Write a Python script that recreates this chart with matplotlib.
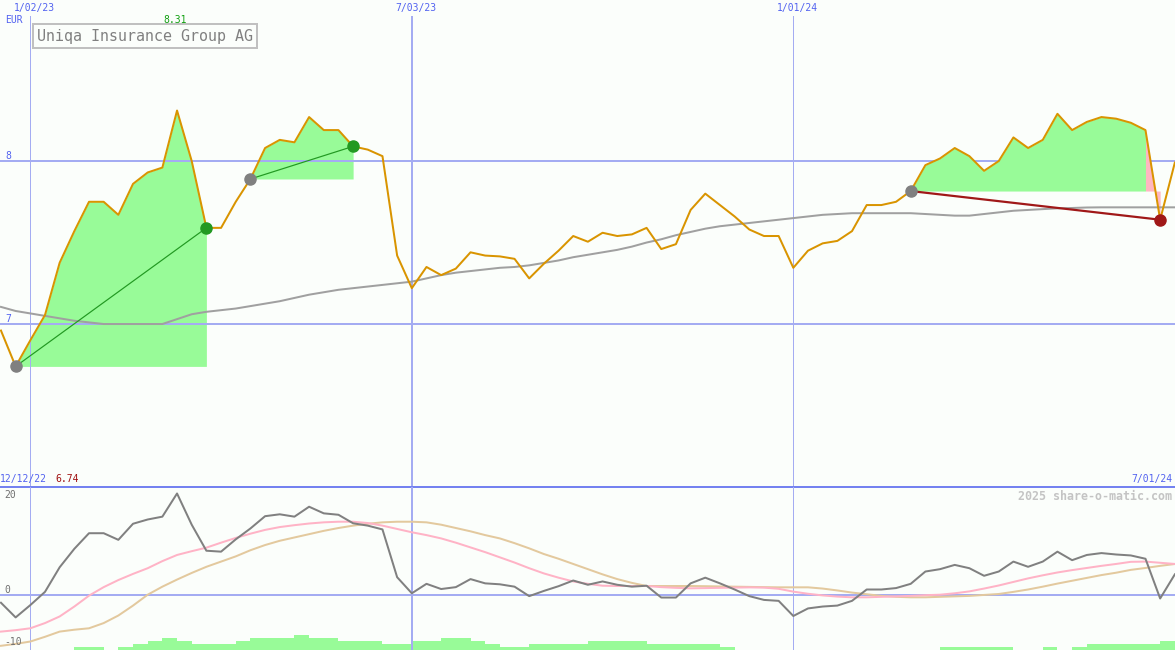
#!/usr/bin/env python3
"""Weekly price chart for Uniqa Insurance Group AG with a momentum panel below."""

import matplotlib
matplotlib.use("Agg")
import matplotlib.pyplot as plt
import matplotlib.transforms as mtransforms
import pandas as pd

# ── data (one value per week, 19 Dec 2022 … 1 Jul 2024) ───────────────────────
START_WEEK = "2022-12-19"

price = [
    6.96, 6.74, 6.90, 7.055, 7.376, 7.57, 7.75, 7.75, 7.67, 7.86,
    7.93, 7.96, 8.31, 8.00, 7.59, 7.59, 7.75, 7.89, 8.08, 8.13,
    8.115, 8.27, 8.19, 8.19, 8.09, 8.07, 8.03, 7.42, 7.22, 7.35,
    7.30, 7.34, 7.44, 7.42, 7.415, 7.40, 7.28, 7.37, 7.45, 7.54,
    7.505, 7.56, 7.54, 7.55, 7.59, 7.46, 7.49, 7.70, 7.80, 7.73,
    7.66, 7.58, 7.54, 7.54, 7.345, 7.45, 7.495, 7.51, 7.57, 7.73,
    7.73, 7.75, 7.816, 7.975, 8.016, 8.08, 8.03, 7.94, 8.00, 8.145,
    8.08, 8.13, 8.29, 8.19, 8.24, 8.27, 8.26, 8.235, 8.19, 7.64,
    7.99,
]

price_ma = [
    7.105, 7.08, 7.065, 7.05, 7.035, 7.02, 7.01, 7.00, 7.00, 7.00,
    7.00, 7.00, 7.03, 7.06, 7.075, 7.085, 7.095, 7.11, 7.125, 7.14,
    7.16, 7.18, 7.195, 7.21, 7.22, 7.23, 7.24, 7.25, 7.26, 7.28,
    7.30, 7.315, 7.325, 7.335, 7.345, 7.35, 7.36, 7.375, 7.39, 7.41,
    7.425, 7.44, 7.455, 7.475, 7.50, 7.52, 7.545, 7.565, 7.585, 7.60,
    7.61, 7.62, 7.63, 7.64, 7.65, 7.66, 7.67, 7.675, 7.68, 7.68,
    7.68, 7.68, 7.68, 7.675, 7.67, 7.665, 7.665, 7.675, 7.685, 7.695,
    7.70, 7.705, 7.71, 7.712, 7.715, 7.716, 7.716, 7.716, 7.716, 7.716,
    7.716,
]

momentum = [
    -1.7, -4.8, -2.2, 0.6, 5.8, 9.7, 13.0, 13.0, 11.6, 15.0,
    15.9, 16.5, 21.4, 14.8, 9.3, 9.1, 11.7, 14.0, 16.6, 17.0,
    16.5, 18.6, 17.2, 16.9, 15.1, 14.6, 13.8, 3.7, 0.3, 2.3,
    1.2, 1.6, 3.3, 2.4, 2.2, 1.7, -0.3, 0.8, 1.8, 3.0,
    2.1, 2.8, 2.1, 1.7, 1.9, -0.6, -0.6, 2.4, 3.6, 2.4,
    1.1, -0.3, -1.1, -1.3, -4.5, -2.9, -2.5, -2.3, -1.3, 1.1,
    1.1, 1.4, 2.3, 4.9, 5.4, 6.3, 5.6, 4.0, 4.9, 7.0,
    5.9, 7.0, 9.1, 7.3, 8.4, 8.8, 8.5, 8.3, 7.6, -0.8,
    4.3,
]

momentum_fast = [
    -7.8, -7.5, -7.1, -6.0, -4.6, -2.5, -0.2, 1.6, 3.1, 4.4,
    5.6, 7.1, 8.4, 9.2, 9.95, 11.0, 12.0, 12.9, 13.7, 14.3,
    14.7, 15.05, 15.3, 15.43, 15.43, 15.15, 14.6, 13.9, 13.2, 12.6,
    11.9, 11.0, 10.0, 9.0, 7.9, 6.8, 5.6, 4.5, 3.6, 2.8,
    2.3, 1.9, 1.84, 1.84, 1.84, 1.6, 1.45, 1.35, 1.4, 1.45,
    1.5, 1.55, 1.5, 1.25, 0.65, 0.2, -0.15, -0.4, -0.55, -0.55,
    -0.45, -0.35, -0.25, -0.1, 0.0, 0.3, 0.7, 1.3, 1.95, 2.7,
    3.45, 4.1, 4.7, 5.2, 5.65, 6.1, 6.5, 6.95, 7.0, 6.75,
    6.5,
]

momentum_slow = [
    -10.8, -10.4, -9.9, -8.9, -7.8, -7.4, -7.1, -6.0, -4.4, -2.3,
    0.0, 1.7, 3.2, 4.6, 5.9, 7.0, 8.1, 9.4, 10.5, 11.4,
    12.1, 12.8, 13.5, 14.1, 14.6, 15.0, 15.3, 15.43, 15.43, 15.3,
    14.8, 14.1, 13.4, 12.6, 11.9, 10.9, 9.8, 8.6, 7.6, 6.5,
    5.4, 4.3, 3.3, 2.5, 1.84, 1.84, 1.84, 1.84, 1.8, 1.75,
    1.7, 1.65, 1.6, 1.56, 1.56, 1.56, 1.3, 0.9, 0.45, 0.1,
    -0.25, -0.45, -0.55, -0.55, -0.45, -0.35, -0.25, -0.05, 0.15, 0.6,
    1.1, 1.7, 2.35, 2.95, 3.55, 4.15, 4.65, 5.25, 5.65, 6.1,
    6.49,
]

volume_level = [
    0, 0, 0, 0, 0, 1, 1, 0, 1, 2,
    3, 4, 3, 2, 2, 2, 3, 4, 4, 4,
    5, 4, 4, 3, 3, 3, 2, 2, 3, 3,
    4, 4, 3, 2, 1, 1, 2, 2, 2, 2,
    3, 3, 3, 3, 2, 2, 2, 2, 2, 1,
    0, 0, 0, 0, 0, 0, 0, 0, 0, 0,
    0, 0, 0, 0, 1, 1, 1, 1, 1, 0,
    0, 1, 0, 1, 2, 2, 2, 2, 2, 3,
    3,
]

# swing segments as (first week, last week) indices into the lists above
rise_segments = [(1, 14), (17, 24)]
fall_segments = [(62, 79)]

grid_dates = ["2023-01-02", "2023-07-03", "2024-01-01"]
price_ticks = [7, 8]
momentum_ticks = [20, 0, -10]

name = "Uniqa Insurance Group AG"
currency = "EUR"
period_start = "12/12/22"
period_end = "7/01/24"
period_low = "6.74"
period_high = "8.31"
credit = "2025 share-o-matic.com"

# ── style ─────────────────────────────────────────────────────────────────────
BG = "#fbfefb"
GRID = "#a4acf2"
SEP = "#7482f0"
LABEL_BLUE = "#5262f0"
ORANGE = "#d99400"
MA_GREY = "#a0a0a0"
FILL_GREEN = "#98fb98"
FILL_PINK = "#ffb6c1"
UP_GREEN = "#229922"
DOWN_RED = "#a01818"
PX = 0.72  # one pixel in points at dpi=100
MONO = "DejaVu Sans Mono"

W, H = 1175, 650


def fx(px):
    return px / W


def fy(px):
    return 1 - px / H


def main() -> None:
    weeks = pd.date_range(START_WEEK, periods=len(price), freq="7D")
    gdates = pd.to_datetime(grid_dates)
    xlim = (weeks[0] - pd.Timedelta(hours=11), weeks[-1] + pd.Timedelta(hours=2))

    fig = plt.figure(figsize=(W / 100, H / 100), dpi=100, facecolor=BG)
    ax1 = fig.add_axes([0, 1 - 487 / H, 1, (487 - 16) / H])
    axv = fig.add_axes([0, 0, 1, 163 / H])
    ax2 = fig.add_axes([0, 0, 1, 163 / H], sharex=axv)
    for ax in (ax1, ax2, axv):
        ax.patch.set_visible(False)
        for s in ax.spines.values():
            s.set_visible(False)
        ax.set_xticks([])
        ax.set_yticks([])
    ax1.spines["bottom"].set_visible(True)
    ax1.spines["bottom"].set_color(SEP)
    ax1.spines["bottom"].set_linewidth(2 * PX)

    # ── price panel ───────────────────────────────────────────────────────────
    ax1.set_xlim(*xlim)
    ax1.set_ylim(6.0, 8.89)
    for v in price_ticks:
        ax1.axhline(v, color=GRID, lw=2 * PX, zorder=1.5)
    for d, w in zip(gdates, [1, 2, 1]):
        ax1.axvline(d, color=GRID, lw=w * PX, zorder=1.5)

    ax1.plot(weeks, price_ma, color=MA_GREY, lw=2 * PX, zorder=3)

    for a, b in rise_segments:
        base = price[a]
        ax1.fill_between(weeks[a:b + 1], price[a:b + 1], base,
                         color=FILL_GREEN, lw=0, zorder=1)
        ax1.plot([weeks[a], weeks[b]], [price[a], price[b]], color=UP_GREEN,
                 lw=1.2 * PX, zorder=4)
        ax1.plot(weeks[a], price[a], "o", color="#808080", ms=8, zorder=5)
        ax1.plot(weeks[b], price[b], "o", color=UP_GREEN, ms=8, zorder=5)

    for a, b in fall_segments:
        base = price[a]
        ax1.fill_between(weeks[a:b], price[a:b], base,
                         color=FILL_GREEN, lw=0, zorder=2)
        ax1.fill_between(weeks[b - 1:b + 1], price[b - 1:b + 1], base,
                         color=FILL_PINK, lw=0, zorder=2, interpolate=True)
        ax1.plot([weeks[a], weeks[b]], [price[a], price[b]], color=DOWN_RED,
                 lw=2.2 * PX, zorder=4)
        ax1.plot(weeks[a], price[a], "o", color="#808080", ms=8, zorder=5)
        ax1.plot(weeks[b], price[b], "o", color=DOWN_RED, ms=8, zorder=5)

    ax1.plot(weeks, price, color=ORANGE, lw=2 * PX, zorder=4.5)

    # labels round the price panel
    top = mtransforms.blended_transform_factory(ax1.transData, fig.transFigure)
    for d in gdates:
        ax1.text(d + pd.Timedelta(days=2), fy(8), f"{d.month}/{d:%d/%y}",
                 transform=top, ha="center", va="center", fontsize=7,
                 family=MONO, color=LABEL_BLUE)
    hi = weeks[price.index(max(price))]
    ax1.text(hi - pd.Timedelta(days=1), fy(20), period_high, transform=top,
             ha="center", va="center", fontsize=7, family=MONO, color="#10a010")
    fig.text(fx(5), fy(20), currency, ha="left", va="center", fontsize=7,
             family=MONO, color=LABEL_BLUE)
    left = mtransforms.blended_transform_factory(fig.transFigure, ax1.transData)
    for v in price_ticks:
        ax1.text(fx(5), v, f"{v}", transform=left, ha="left", va="bottom",
                 fontsize=7, family=MONO, color=LABEL_BLUE)
    fig.text(fx(37), fy(36), name, ha="left", va="center", fontsize=10.8,
             family=MONO, color="#808080",
             bbox=dict(boxstyle="square,pad=0.28", fc="none", ec="#c0c0c0",
                       lw=2 * PX))

    # ── momentum panel ────────────────────────────────────────────────────────
    ax2.set_xlim(*xlim)
    ax2.set_ylim(-11.69, 22.77)
    axv.set_ylim(0, 163 / 3)
    axv.bar(weeks, volume_level, width=7, align="edge", color=FILL_GREEN,
            lw=0, zorder=1)
    ax2.axhline(0, color=GRID, lw=2 * PX, zorder=1)
    for d, w in zip(gdates, [1, 2, 1]):
        ax2.axvline(d, color=GRID, lw=w * PX, zorder=1)
    ax2.plot(weeks, momentum_slow, color="#e3c99e", lw=2 * PX, zorder=2)
    ax2.plot(weeks, momentum_fast, color="#ffb3c6", lw=2 * PX, zorder=3)
    ax2.plot(weeks, momentum, color="#808080", lw=2 * PX, zorder=4)

    left2 = mtransforms.blended_transform_factory(fig.transFigure, ax2.transData)
    for v, va in zip(momentum_ticks, ["bottom", "bottom", "center"]):
        ax2.text(fx(4), v, f"{v}", transform=left2, ha="left", va=va,
                 fontsize=7, family=MONO, color="#707070")

    fig.text(fx(0), fy(479), period_start, ha="left", va="center",
             fontsize=7, family=MONO, color=LABEL_BLUE)
    fig.text(fx(55), fy(479), period_low, ha="left", va="center",
             fontsize=7, family=MONO, color="#a01010")
    fig.text(fx(1172), fy(479), period_end, ha="right", va="center",
             fontsize=7, family=MONO, color=LABEL_BLUE)
    fig.text(fx(1172), fy(496), credit, ha="right", va="center",
             fontsize=8.4, family=MONO, weight="bold", color="#c4c4c4")

    fig.savefig("out.png", dpi=100, facecolor=BG)
    plt.close(fig)


if __name__ == "__main__":
    main()
